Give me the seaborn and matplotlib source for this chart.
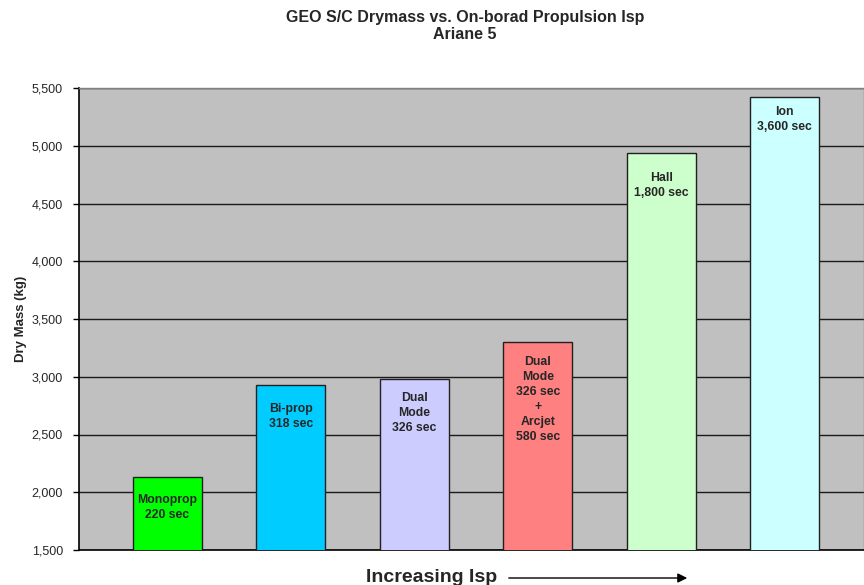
import matplotlib
matplotlib.use("Agg")
import matplotlib.pyplot as plt
import seaborn as sns
import pandas as pd
from matplotlib.ticker import FuncFormatter, MultipleLocator

# Propulsion options ordered by specific impulse
systems = ["Monoprop", "Bi-prop", "Dual Mode", "Dual Mode + Arcjet", "Hall", "Ion"]
dry_mass = [2130, 2930, 2980, 3300, 4940, 5420]
bar_labels = [
    "Monoprop\n220 sec",
    "Bi-prop\n318 sec",
    "Dual\nMode\n326 sec",
    "Dual\nMode\n326 sec\n+\nArcjet\n580 sec",
    "Hall\n1,800 sec",
    "Ion\n3,600 sec",
]
bar_colors = ["#00FF00", "#00CCFF", "#CCCCFF", "#FF8080", "#CCFFCC", "#CCFFFF"]

# vertical gap (points) between a bar's top and its label
label_gap = [12, 13, 9, 10, 14, 6]

df = pd.DataFrame({"system": systems, "mass": dry_mass})

sns.set_theme(style="white")
plt.rcParams["font.family"] = ["Liberation Sans", "DejaVu Sans"]

fig = plt.figure(figsize=(8.64, 5.85), dpi=100)
ax = fig.add_axes([79 / 864, 35 / 585, 1 - 79 / 864, (550 - 88) / 585])
ax.set_facecolor("#C0C0C0")

sns.barplot(
    data=df, x="system", y="mass", hue="system", palette=bar_colors,
    legend=False, width=0.56, edgecolor="#202020", linewidth=1.0,
    saturation=1, ax=ax, zorder=3,
)

ax.set_ylim(1500, 5500)
ax.set_xlim(-0.717, 5.644)
ax.yaxis.set_major_locator(MultipleLocator(500))
ax.yaxis.set_major_formatter(FuncFormatter(lambda v, p: f"{int(v):,}"))
ax.grid(axis="y", color="#1a1a1a", linewidth=1.0, zorder=1)
ax.set_axisbelow(True)

ax.set_xticks([])
ax.set_xlabel("")
ax.set_ylabel("Dry Mass (kg)", fontsize=9.5, fontweight="bold", labelpad=3)
ax.tick_params(axis="y", direction="out", length=4.5, width=1, color="black",
               pad=7, labelsize=9, left=True)

for side in ["top", "right"]:
    ax.spines[side].set_color("#808080")
    ax.spines[side].set_linewidth(1.0)
for side in ["left", "bottom"]:
    ax.spines[side].set_color("black")
    ax.spines[side].set_linewidth(1.2)

for i, (val, text) in enumerate(zip(dry_mass, bar_labels)):
    ax.annotate(text, xy=(i, val), xytext=(0, -label_gap[i]),
                textcoords="offset points", ha="center", va="top",
                fontsize=8.8, fontweight="bold", linespacing=1.34,
                zorder=4)

fig.text(465 / 864, 1 - 26 / 585,
         "GEO S/C Drymass vs. On-borad Propulsion Isp\nAriane 5",
         ha="center", va="center", fontsize=11.5, fontweight="bold",
         linespacing=1.15)

# x-axis caption with direction arrow
fig.text(432 / 864, 1 - 578 / 585, "Increasing Isp", ha="center",
         va="center", fontsize=14, fontweight="bold")
fig.add_artist(matplotlib.patches.FancyArrowPatch(
    (506 / 864, 1 - 578 / 585), (690 / 864, 1 - 578 / 585),
    transform=fig.transFigure, arrowstyle="-|>", mutation_scale=14,
    color="black", linewidth=1.0))

fig.savefig("out.png", dpi=100)
